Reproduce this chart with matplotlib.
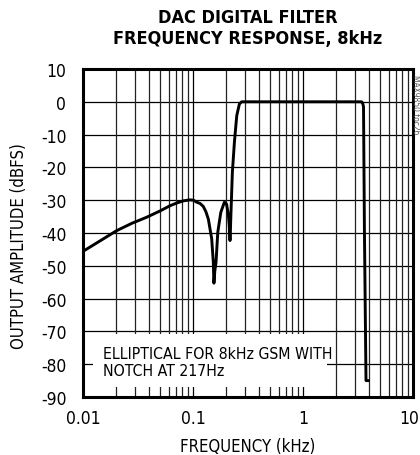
import numpy as np
import matplotlib
matplotlib.use("Agg")
import matplotlib.pyplot as plt
import matplotlib.transforms as mtransforms
from matplotlib.patches import Rectangle

plt.rcParams['font.family'] = ['DejaVu Sans']
plt.rcParams['font.stretch'] = 'condensed'
plt.rcParams['axes.unicode_minus'] = False

# Frequency response (kHz, dBFS)
freq_khz = [0.0100, 0.0143, 0.0202, 0.0280, 0.0379, 0.0500, 0.0617, 0.0720, 0.0817,
            0.0937, 0.101, 0.108, 0.116, 0.124, 0.131, 0.138, 0.148, 0.153, 0.155,
            0.158, 0.162, 0.168, 0.179, 0.193, 0.202, 0.210, 0.214, 0.217, 0.219,
            0.221, 0.228, 0.238, 0.250, 0.264, 0.277, 1.0, 3.40, 3.48, 3.55,
            3.62, 3.74, 3.95]
amp_dbfs = [-45.6, -42.4, -39.3, -37.0, -35.2, -33.3, -31.7, -30.8, -30.2,
            -29.9, -30.0, -30.6, -31.0, -31.9, -33.5, -35.8, -41.8, -48.9, -55.3,
            -51.5, -48.9, -39.8, -33.7, -30.6, -31.2, -34.7, -38.0, -42.3, -39.0,
            -34.7, -21.5, -12.3, -4.2, -0.7, 0.0, 0.0, 0.0, -0.3, -1.5,
            -40.0, -85.0, -85.0]

y_ticks = list(range(10, -100, -10))
x_ticks = [0.01, 0.1, 1, 10]
x_ticklabels = ['0.01', '0.1', '1', '10']

fig = plt.figure(figsize=(4.2, 4.56), dpi=100)
ax = fig.add_axes([0.1976, 0.1272, 0.7857, 0.7193])

ax.set_xscale('log')
ax.set_xlim(0.01, 10)
ax.set_ylim(-90, 10)

# grid: every 10 dB horizontally, 1-9 per decade vertically
for y in y_ticks:
    ax.axhline(y, color='black', lw=0.9, zorder=1)
for dec in [0.01, 0.1, 1]:
    for m in range(2, 10):
        ax.axvline(dec * m, color='#222222', lw=0.9, zorder=1)
for x in x_ticks:
    ax.axvline(x, color='black', lw=0.9, zorder=1)

ax.plot(freq_khz, amp_dbfs, color='black', lw=2.1, zorder=3,
        solid_joinstyle='round', solid_capstyle='round')

ax.set_yticks(y_ticks)
ax.set_xticks(x_ticks)
ax.set_xticklabels(x_ticklabels)
ax.minorticks_off()
ax.tick_params(axis='y', length=0, labelsize=12.5, pad=12)
ax.tick_params(axis='x', length=0, labelsize=12.5, pad=9)
# last x label sits slightly left in the original
last = ax.get_xticklabels()[-1]
last.set_transform(last.get_transform() +
                   mtransforms.ScaledTranslation(-4 / 100, 0, fig.dpi_scale_trans))
for s in ax.spines.values():
    s.set_linewidth(2.2)
    s.set_zorder(5)

ax.set_xlabel('FREQUENCY (kHz)', fontsize=12)
ax.xaxis.set_label_coords(0.5, -0.122)
ax.set_ylabel('OUTPUT AMPLITUDE (dBFS)', fontsize=12)
ax.yaxis.set_label_coords(-0.167, 0.463)

# annotation box covering the grid
ax.add_patch(Rectangle((0.030, 0.030), 0.709, 0.162, transform=ax.transAxes,
                       facecolor='white', edgecolor='none', zorder=2))
ax.text(0.061, 0.107, 'ELLIPTICAL FOR 8kHz GSM WITH\nNOTCH AT 217Hz',
        transform=ax.transAxes, ha='left', va='center', fontsize=11.3,
        linespacing=1.2, zorder=4)

fig.text(0.589, 0.937, 'DAC DIGITAL FILTER\nFREQUENCY RESPONSE, 8kHz', ha='center',
         va='center', fontsize=13, fontweight='bold', linespacing=1.2)

fig.text(0.99, 0.77, 'MAX9850 toc26', rotation=270, ha='center', va='center',
         fontsize=6, color='#555555')

fig.savefig('out.png', dpi=100)
